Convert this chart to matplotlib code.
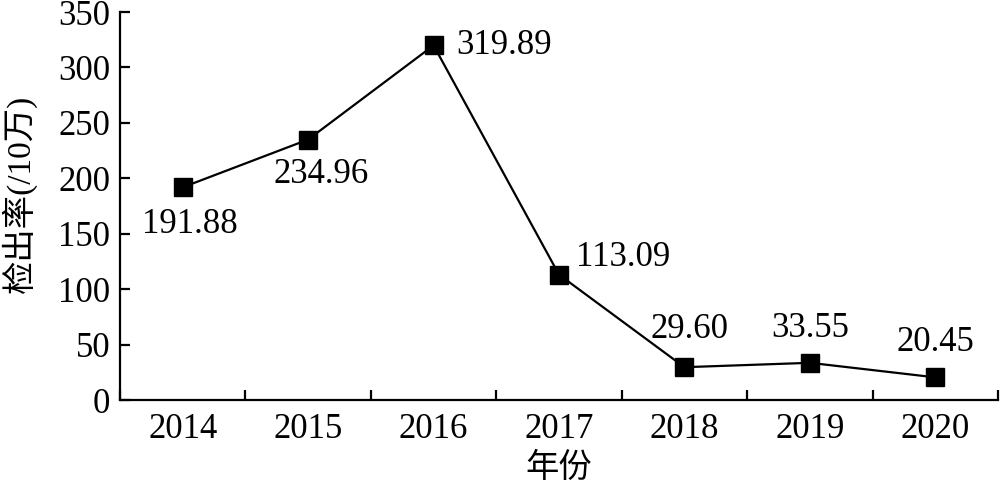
import matplotlib.pyplot as plt
import numpy as np

plt.rcParams['font.family'] = ['Liberation Serif', 'Noto Sans CJK SC']

years = ["2014", "2015", "2016", "2017", "2018", "2019", "2020"]
rates = [191.88, 234.96, 319.89, 113.09, 29.60, 33.55, 20.45]
labels = ["191.88", "234.96", "319.89", "113.09", "29.60", "33.55", "20.45"]
offsets = [(5, -27, "center"), (9, -25, "center"), (16, 0, "left"), (12, 12, "left"),
           (4, 27, "center"), (0, 25, "center"), (0, 25, "center")]

fig = plt.figure(figsize=(10, 4.88), dpi=100)
ax = fig.add_axes([0.12, 0.1803, 0.878, 0.7951])

x = np.arange(len(years))
ax.plot(x, rates, color="black", lw=1.6, marker="s", ms=13, mfc="black", mec="black")

for xi, yi, lab, (dx, dy, ha) in zip(x, rates, labels, offsets):
    ax.annotate(lab, (xi, yi), xytext=(dx, dy), textcoords="offset points",
                ha=ha, va="center", fontsize=25)

ax.set_xlim(-0.5, len(years) - 0.5)
ax.set_ylim(0, 350)
ax.set_yticks(np.arange(0, 351, 50))
ax.set_xticks(np.arange(-0.5, len(years), 1.0))
ax.set_xticklabels([])
ax.set_xticks(x, minor=True)
ax.set_xticklabels(years, minor=True)
ax.tick_params(axis="x", which="minor", length=0, pad=9, labelsize=25)
ax.tick_params(axis="x", which="major", direction="in", length=7, width=1.6)
ax.tick_params(axis="y", direction="in", length=7, width=1.6, labelsize=25, pad=7)

for s in ["top", "right"]:
    ax.spines[s].set_visible(False)
for s in ["left", "bottom"]:
    ax.spines[s].set_linewidth(1.6)

ax.set_xlabel("年份", fontsize=24, va="center")
ax.set_ylabel("检出率(/10万)", fontsize=24, va="center")
ax.xaxis.set_label_coords(0.5, -0.175)
ax.yaxis.set_label_coords(-0.115, 0.53)

fig.savefig("out.png", dpi=100)
